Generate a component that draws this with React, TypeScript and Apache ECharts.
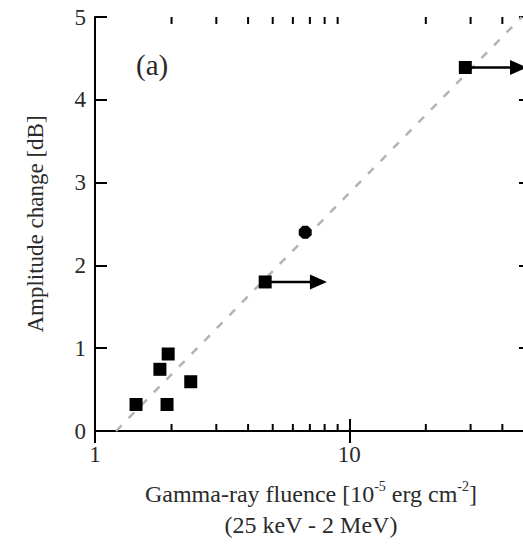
import React, { useEffect, useRef } from "react";
import * as echarts from "echarts";

// Gamma-ray fluence (10^-5 erg cm^-2) vs. amplitude change (dB)
const detectFluence = [1.45, 1.92, 1.8, 1.94, 2.38];
const detectAmplitude = [0.32, 0.32, 0.745, 0.93, 0.595];

// Lower limits on fluence (points with arrows)
const limitFluence = [4.67, 28.6];
const limitAmplitude = [1.8, 4.39];
const limitArrowEnd = [8.17, 50];

// Single event drawn with its own marker
const singleFluence = [6.71];
const singleAmplitude = [2.4];

// Dashed trend line endpoints
const trendFluence = [1.21, 47.7];
const trendAmplitude = [0, 5];

// Axis setup
const xMin = 1;
const xMax = 50;
const xLabels = [1, 10];
const xMinorTicks = [2, 3, 4, 5, 6, 7, 8, 9, 20, 30, 40];
const yMin = 0;
const yMax = 5;
const yStep = 1;

const FONT = "'Liberation Serif', 'Times New Roman', serif";
const TEXT = "#2a2a2a";

// The frame runs slightly past the visible page on the right
const CHART_W = 540;
const CHART_H = 544;

export default function App() {
  const ref = useRef<HTMLDivElement>(null);

  useEffect(() => {
    if (!ref.current) return;
    const chart = echarts.init(ref.current, undefined, { renderer: "svg" });

    const octagon = "path://M3,0 L7,0 L10,3 L10,7 L7,10 L3,10 L0,7 L0,3 Z";

    const option: any = {
      animation: false,
      backgroundColor: "#ffffff",
      grid: { left: 95, top: 17, right: CHART_W - 527, bottom: 113, containLabel: false },
      xAxis: [
        {
          type: "log",
          logBase: 10,
          min: xMin,
          max: xMax,
          position: "bottom",
          axisLine: { lineStyle: { color: "#000", width: 2 } },
          axisTick: { inside: true, length: 12, lineStyle: { color: "#000", width: 2 } },
          splitLine: { show: false },
          axisLabel: {
            margin: 12,
            fontSize: 23,
            fontFamily: FONT,
            color: TEXT,
            showMaxLabel: false,
            formatter: (v: number) => {
              const hit = xLabels.find((l) => Math.abs(l - v) < 1e-6 * l);
              return hit !== undefined ? String(hit) : "";
            },
          },
          name:
            "{n|Gamma-ray fluence [10}{s|-5}{n| erg cm}{s|-2}{n|]}\n{n|(25 keV - 2 MeV)}",
          nameLocation: "middle",
          nameGap: 47,
          nameTextStyle: {
            fontFamily: FONT,
            color: TEXT,
            rich: {
              n: { fontSize: 24, lineHeight: 31, fontFamily: FONT, color: TEXT },
              s: {
                fontSize: 14,
                lineHeight: 16,
                verticalAlign: "top",
                padding: [1, 0, 0, 0],
                fontFamily: FONT,
                color: TEXT,
              },
            },
          },
        },
        {
          type: "log",
          logBase: 10,
          min: xMin,
          max: xMax,
          position: "top",
          axisLine: { lineStyle: { color: "#000", width: 2 } },
          axisTick: { inside: true, length: 12, lineStyle: { color: "#000", width: 2 } },
          axisLabel: { show: false },
          splitLine: { show: false },
        },
      ],
      yAxis: [
        {
          type: "value",
          min: yMin,
          max: yMax,
          interval: yStep,
          position: "left",
          axisLine: { show: true, lineStyle: { color: "#000", width: 2 } },
          axisTick: { show: true, inside: true, length: 12, lineStyle: { color: "#000", width: 2 } },
          splitLine: { show: false },
          axisLabel: { margin: 9, fontSize: 23, fontFamily: FONT, color: TEXT },
          name: "Amplitude change [dB]",
          nameLocation: "middle",
          nameGap: 48,
          nameRotate: 90,
          nameTextStyle: { fontSize: 23, fontFamily: FONT, color: TEXT },
        },
        {
          type: "value",
          min: yMin,
          max: yMax,
          interval: yStep,
          position: "right",
          axisLine: { show: true, lineStyle: { color: "#000", width: 2 } },
          axisTick: { show: true, inside: true, length: 8, lineStyle: { color: "#000", width: 2 } },
          splitLine: { show: false },
          axisLabel: { show: false },
        },
      ],
      graphic: [
        {
          type: "text",
          left: 136,
          top: 50,
          style: { text: "(a)", fontSize: 29, fontFamily: FONT, fill: TEXT },
          z: 10,
        },
      ],
      series: [
        {
          // minor ticks for the log axes (bottom and top)
          type: "custom",
          silent: true,
          clip: false,
          data: xMinorTicks.map((v) => [v]),
          encode: { x: 0 },
          renderItem: (_p: any, api: any) => {
            const v = api.value(0);
            const b = api.coord([v, yMin]);
            const t = api.coord([v, yMax]);
            const s = { stroke: "#000", lineWidth: 2 };
            return {
              type: "group",
              children: [
                { type: "line", shape: { x1: b[0], y1: b[1], x2: b[0], y2: b[1] - 7 }, style: s },
                { type: "line", shape: { x1: t[0], y1: t[1], x2: t[0], y2: t[1] + 7 }, style: s },
              ],
            };
          },
          z: 3,
        },
        {
          type: "line",
          data: trendFluence.map((x, i) => [x, trendAmplitude[i]]),
          showSymbol: false,
          symbol: "none",
          lineStyle: { color: "#b3b3b3", width: 2.5, type: [8, 10] },
          silent: true,
          z: 1,
        },
        {
          type: "scatter",
          data: detectFluence.map((x, i) => [x, detectAmplitude[i]]),
          symbol: "rect",
          symbolSize: 13,
          itemStyle: { color: "#000", opacity: 1 },
          z: 5,
        },
        {
          type: "scatter",
          data: limitFluence.map((x, i) => [x, limitAmplitude[i]]),
          symbol: "rect",
          symbolSize: 13,
          itemStyle: { color: "#000", opacity: 1 },
          z: 5,
        },
        {
          type: "scatter",
          data: singleFluence.map((x, i) => [x, singleAmplitude[i]]),
          symbol: octagon,
          symbolSize: 13,
          itemStyle: { color: "#000", opacity: 1 },
          z: 5,
        },
        {
          // arrows marking lower limits on fluence
          type: "custom",
          clip: false,
          silent: true,
          data: limitFluence.map((x, i) => [x, limitAmplitude[i], limitArrowEnd[i]]),
          encode: { x: [0, 2], y: 1 },
          renderItem: (_p: any, api: any) => {
            const p0 = api.coord([api.value(0), api.value(1)]);
            const p1 = api.coord([api.value(2), api.value(1)]);
            const headL = 17;
            const headH = 7.5;
            return {
              type: "group",
              children: [
                {
                  type: "line",
                  shape: { x1: p0[0], y1: p0[1], x2: p1[0] - headL + 2, y2: p1[1] },
                  style: { stroke: "#000", lineWidth: 2.5 },
                },
                {
                  type: "polygon",
                  shape: {
                    points: [
                      [p1[0] - headL, p1[1] - headH],
                      [p1[0], p1[1]],
                      [p1[0] - headL, p1[1] + headH],
                    ],
                  },
                  style: { fill: "#000" },
                },
              ],
            };
          },
          z: 4,
        },
      ],
    };

    chart.setOption(option);
    return () => chart.dispose();
  }, []);

  return (
    <div
      ref={ref}
      style={{
        position: "fixed",
        left: 0,
        top: 0,
        width: CHART_W,
        height: CHART_H,
        background: "#fff",
      }}
    />
  );
}
